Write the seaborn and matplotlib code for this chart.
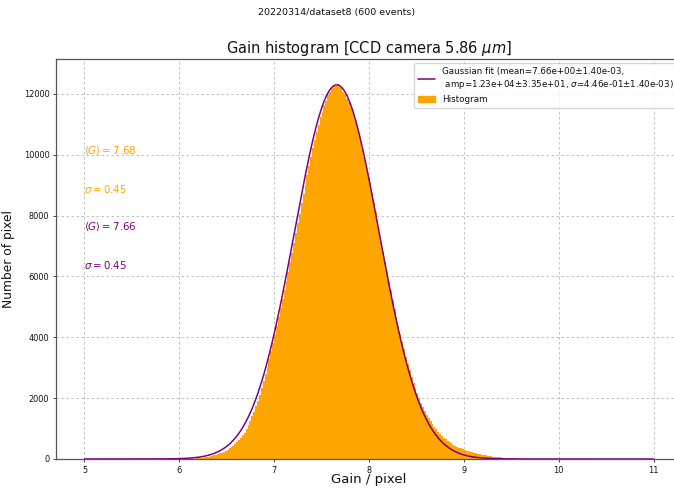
import numpy as np
import pandas as pd
import matplotlib
matplotlib.use("Agg")
import matplotlib.pyplot as plt
import seaborn as sns
from matplotlib.patches import Patch
from matplotlib.lines import Line2D

# ---------------- data ----------------
bin_start = 6.10
bin_width = 0.02
counts = [
    5, 8, 12, 16, 21, 27, 34, 42, 51, 62,
    75, 89, 104, 120, 140, 160, 183, 210, 240, 272,
    308, 348, 392, 440, 492, 550, 615, 690, 775, 870,
    985, 1110, 1250, 1400, 1560, 1730, 1910, 2100, 2320, 2550,
    2790, 3030, 3280, 3540, 3810, 4090, 4370, 4660, 4950, 5250,
    5540, 5850, 6160, 6470, 6780, 7110, 7420, 7760, 8070, 8400,
    8720, 9010, 9350, 9620, 9930, 10210, 10500, 10760, 10980, 11230,
    11420, 11640, 11780, 11960, 12050, 12200, 12310, 12260, 12330, 12220,
    12200, 12080, 12010, 11850, 11740, 11560, 11400, 11180, 10980, 10720,
    10480, 10210, 9930, 9650, 9360, 9060, 8760, 8430, 8120, 7780,
    7450, 7130, 6800, 6480, 6170, 5850, 5540, 5240, 4940, 4660,
    4380, 4110, 3850, 3600, 3360, 3130, 2910, 2710, 2510, 2330,
    2160, 2000, 1850, 1710, 1580, 1460, 1350, 1240, 1140, 1050,
    970, 890, 820, 760, 700, 650, 600, 555, 515, 475,
    440, 408, 378, 350, 325, 300, 278, 256, 236, 218,
    200, 184, 170, 156, 143, 131, 119, 108, 98, 89,
    80, 72, 64, 57, 50, 44, 39, 34, 29, 25,
    21, 18, 15, 13, 11, 9, 7, 6, 5, 4,
]

# Gaussian fit parameters (from legend)
fit_mean, fit_mean_err = 7.66, 1.40e-03
fit_amp, fit_amp_err = 1.23e4, 3.35e1
fit_sigma, fit_sigma_err = 4.46e-01, 1.40e-03
fit_range = (5.0, 11.0)

hist_mean, hist_sigma = 7.68, 0.45

x_ticks = [5, 6, 7, 8, 9, 10, 11]
y_ticks = [0, 2000, 4000, 6000, 8000, 10000, 12000]

suptitle = "20220314/dataset8 (600 events)"
title = r"Gain histogram [CCD camera 5.86 $\mu m$]"
xlabel = "Gain / pixel"
ylabel = "Number of pixel"

# ---------------- plot ----------------
sns.set_theme(style="ticks")
plt.rcParams["font.family"] = ["DejaVu Sans"]
plt.rcParams["text.color"] = "#111111"
plt.rcParams["axes.labelcolor"] = "#111111"

ORANGE = "#FFA500"
PURPLE = "#800080"

n = len(counts)
edges = bin_start + bin_width * np.arange(n + 1)
centers = edges[:-1] + bin_width / 2
df = pd.DataFrame({"gain": centers, "count": counts})

fig = plt.figure(figsize=(6.74, 4.91), dpi=100)
ax = fig.add_axes([56 / 674, 32 / 491, 626 / 674, 400 / 491])

sns.histplot(data=df, x="gain", weights="count", bins=[float(e) for e in edges],
             color=ORANGE, alpha=1.0, linewidth=0, edgecolor=ORANGE, ax=ax, zorder=2)

xf = np.linspace(fit_range[0], fit_range[1], 1200)
yf = fit_amp * np.exp(-(xf - fit_mean) ** 2 / (2 * fit_sigma ** 2))
sns.lineplot(x=xf, y=yf, color=PURPLE, linewidth=1.1, ax=ax, zorder=3)

ax.set_xlim(4.7, 11.3)
ax.set_ylim(0, 13150)
ax.set_xticks(x_ticks)
ax.set_yticks(y_ticks)
ax.tick_params(labelsize=5.9, length=2.4, width=0.7, pad=2.4,
               colors="#444444", labelcolor="#111111")
ax.grid(True, linestyle=(0, (3, 3)), color="#b8b8b8", linewidth=0.6, zorder=0)
ax.set_axisbelow(True)
for s in ax.spines.values():
    s.set_visible(True)
    s.set_color("#555555")
    s.set_linewidth(0.9)

ax.set_xlabel(xlabel, fontsize=9.5)
ax.set_ylabel(ylabel, fontsize=8.8)
ax.xaxis.label.set_verticalalignment("center")
ax.xaxis.set_label_coords((369 - 56) / 626, (459 - 480) / 400)
ax.yaxis.set_label_coords((15 - 56) / 626, 0.5)
ax.set_title(title, fontsize=10.5, pad=4)
fig.suptitle(suptitle, fontsize=6.8, y=1 - 12 / 491, va="center")

fit_label = ("Gaussian fit (mean=%.2e\u00b1%.2e,\n amp=%.2e\u00b1%.2e, $\\sigma$=%.2e\u00b1%.2e)"
             % (fit_mean, fit_mean_err, fit_amp, fit_amp_err, fit_sigma, fit_sigma_err))
handles = [Line2D([], [], color=PURPLE, linewidth=1.1),
           Patch(facecolor=ORANGE, edgecolor=ORANGE)]
ax.legend(handles, [fit_label, "Histogram"], loc="upper right", fontsize=6.3,
          frameon=True, framealpha=0.8)

ax.text(5.0, 10150, r"$\langle G\rangle = %.2f$" % hist_mean, color=ORANGE, fontsize=7.4, va="center")
ax.text(5.0, 8880, r"$\sigma = %.2f$" % hist_sigma, color=ORANGE, fontsize=7.4, va="center")
ax.text(5.0, 7630, r"$\langle G\rangle = %.2f$" % fit_mean, color=PURPLE, fontsize=7.4, va="center")
ax.text(5.0, 6380, r"$\sigma = %.2f$" % fit_sigma, color=PURPLE, fontsize=7.4, va="center")

fig.savefig("out.png", dpi=100)
